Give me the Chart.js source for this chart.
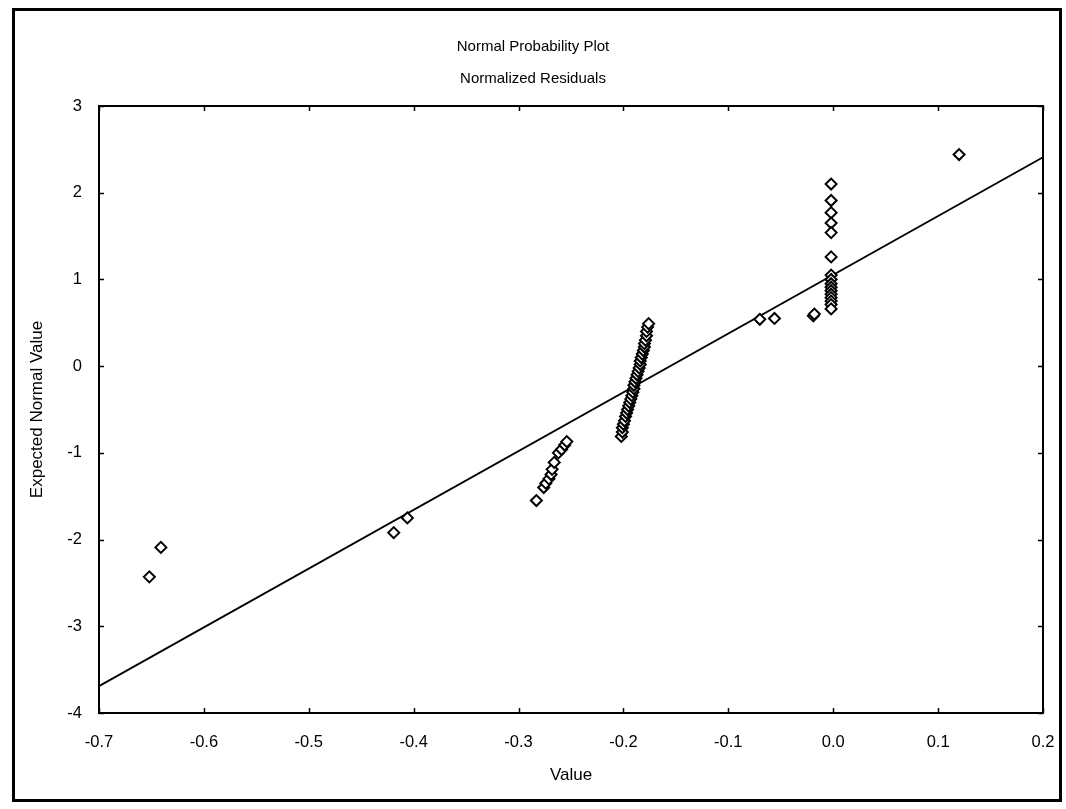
<!DOCTYPE html>
<html>
<head>
<meta charset="utf-8">
<script src="https://cdn.jsdelivr.net/npm/chart.js@4.4.1/dist/chart.umd.min.js"></script>
<style>
  html, body { margin: 0; padding: 0; background: #fff; }
  #wrap { width: 1066px; height: 809px; }
</style>
</head>
<body>
<div id="wrap"><canvas id="c" width="1066" height="809"></canvas></div>
<script>
// Observed residual values (x) and their expected normal values (y)
const residualValues = [
  -0.652, -0.641,
  -0.419, -0.406,
  -0.283, -0.276, -0.274, -0.271, -0.269, -0.268, -0.266, -0.262, -0.259, -0.256, -0.254,
  -0.202, -0.201, -0.201, -0.200, -0.199, -0.198, -0.197, -0.196, -0.195, -0.194,
  -0.193, -0.192, -0.191, -0.190, -0.190, -0.189, -0.188, -0.187, -0.186, -0.185,
  -0.184, -0.184, -0.183, -0.182, -0.181, -0.180, -0.180, -0.179, -0.178, -0.178,
  -0.177, -0.176,
  -0.070, -0.056, -0.019, -0.018,
  -0.002, -0.002, -0.002, -0.002, -0.002, -0.002, -0.002, -0.002, -0.002, -0.002,
  -0.002, -0.002, -0.002, -0.002, -0.002, -0.002,
  0.120
];
const expectedNormal = [
  -2.43, -2.09,
  -1.92, -1.75,
  -1.55, -1.40, -1.35, -1.30, -1.25, -1.19, -1.11, -1.00, -0.96, -0.91, -0.87,
  -0.81, -0.76, -0.71, -0.67, -0.63, -0.58, -0.54, -0.50, -0.46, -0.42,
  -0.38, -0.34, -0.30, -0.26, -0.22, -0.18, -0.14, -0.10, -0.06, -0.02,
  0.02, 0.06, 0.10, 0.14, 0.18, 0.22, 0.26, 0.30, 0.35, 0.40,
  0.45, 0.49,
  0.54, 0.55, 0.58, 0.60,
  2.10, 1.91, 1.77, 1.65, 1.54, 1.26, 1.05, 1.00, 0.95, 0.91,
  0.87, 0.83, 0.79, 0.75, 0.71, 0.66,
  2.44
];
// Reference (fit) line endpoints
const fitLineX = [-0.7, 0.2];
const fitLineY = [-3.69, 2.41];
// Axis tick settings
const xTickMin = -0.7, xTickMax = 0.2, xTickStep = 0.1;
const yTickMin = -4, yTickMax = 3, yTickStep = 1;
const titleLines = ['Normal Probability Plot', 'Normalized Residuals'];
const xAxisTitle = 'Value';
const yAxisTitle = 'Expected Normal Value';

const FONT = "'Liberation Sans', Arial, sans-serif";

const pointsData = residualValues.map((v, i) => ({ x: v, y: expectedNormal[i] }));
const lineData = fitLineX.map((v, i) => ({ x: v, y: fitLineY[i] }));

const framePlugin = {
  id: 'framePlugin',
  beforeDraw(chart) {
    const ctx = chart.ctx;
    ctx.save();
    ctx.fillStyle = '#fff';
    ctx.fillRect(0, 0, chart.width, chart.height);
    ctx.restore();
  },
  afterDraw(chart) {
    const ctx = chart.ctx;
    const a = chart.chartArea;
    const xs = chart.scales.x, ys = chart.scales.y;
    ctx.save();
    ctx.strokeStyle = '#000';
    // outer frame
    ctx.lineWidth = 3;
    ctx.strokeRect(13.5, 9.5, 1047, 791);
    // plot border
    ctx.lineWidth = 2;
    ctx.strokeRect(a.left, a.top, a.right - a.left, a.bottom - a.top);
    // inward tick marks
    ctx.lineWidth = 1.5;
    const tl = 5;
    ctx.beginPath();
    xs.ticks.forEach(t => {
      const px = Math.round(xs.getPixelForValue(t.value)) + 0.5;
      ctx.moveTo(px, a.bottom); ctx.lineTo(px, a.bottom - tl);
      ctx.moveTo(px, a.top); ctx.lineTo(px, a.top + tl);
    });
    ys.ticks.forEach(t => {
      const py = Math.round(ys.getPixelForValue(t.value)) + 0.5;
      ctx.moveTo(a.left, py); ctx.lineTo(a.left + tl, py);
      ctx.moveTo(a.right, py); ctx.lineTo(a.right - tl, py);
    });
    ctx.stroke();
    ctx.restore();
  }
};

new Chart(document.getElementById('c'), {
  type: 'scatter',
  data: {
    datasets: [
      {
        label: 'Fit',
        data: lineData,
        showLine: true,
        borderColor: '#000',
        borderWidth: 1.8,
        pointRadius: 0,
        fill: false,
        order: 2
      },
      {
        label: 'Residuals',
        data: pointsData,
        pointStyle: 'rectRot',
        pointRadius: 5.5,
        pointBackgroundColor: '#fff',
        pointBorderColor: '#000',
        pointBorderWidth: 2,
        order: 1
      }
    ]
  },
  options: {
    responsive: false,
    animation: false,
    devicePixelRatio: 1,
    layout: { padding: { left: 0, right: 0, top: 0, bottom: 0 } },
    plugins: {
      legend: { display: false },
      tooltip: { enabled: false },
      title: {
        display: true,
        text: titleLines,
        color: '#000',
        font: { family: FONT, size: 15, weight: 'normal', lineHeight: 32 / 15 },
        padding: { top: 31, bottom: 11 }
      }
    },
    scales: {
      x: {
        type: 'linear',
        min: xTickMin,
        max: xTickMax,
        grid: { display: false, drawTicks: false },
        border: { display: false },
        ticks: {
          stepSize: xTickStep,
          padding: 20,
          color: '#000',
          maxRotation: 0,
          font: { family: FONT, size: 16.5 },
          callback: (v) => Number(v).toFixed(1)
        },
        title: {
          display: true,
          text: xAxisTitle,
          color: '#000',
          font: { family: FONT, size: 17, lineHeight: 1.2 },
          padding: { top: 0, bottom: 23 }
        },
        afterFit: (s) => { s.height = 96; s.paddingLeft = 0; s.paddingRight = 23; }
      },
      y: {
        type: 'linear',
        min: yTickMin,
        max: yTickMax,
        grid: { display: false, drawTicks: false },
        border: { display: false },
        ticks: {
          stepSize: yTickStep,
          padding: 17,
          color: '#000',
          font: { family: FONT, size: 16.5 },
          callback: (v) => String(v)
        },
        title: {
          display: true,
          text: yAxisTitle,
          color: '#000',
          font: { family: FONT, size: 17, lineHeight: 1.2 },
          padding: { top: 27, bottom: 0 }
        },
        afterFit: (s) => { s.width = 99; s.paddingTop = 0; s.paddingBottom = 0; }
      }
    }
  },
  plugins: [framePlugin]
});
</script>
</body>
</html>
